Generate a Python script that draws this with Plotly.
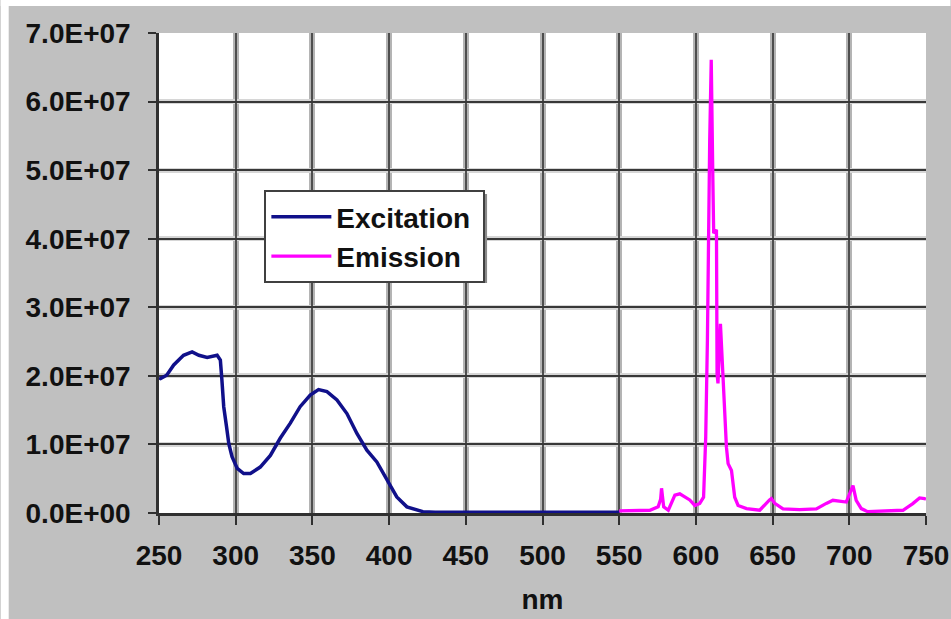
import plotly.graph_objects as go

# ---- data ----
ex_nm = [250, 251, 255, 259.6, 266, 271.6, 276, 281.4, 287.9, 290, 291, 292.2, 294, 295.5,
         297.6, 301, 305.2, 309.6, 316, 322.6, 329, 335.6, 342, 348.6, 354, 359.5, 366,
         372.5, 379, 385.5, 392, 398.6, 405, 411.6, 418, 422, 430, 450, 500, 550]
ex_val = [1.97e7, 1.96e7, 2.01e7, 2.16e7, 2.30e7, 2.35e7, 2.30e7, 2.27e7, 2.30e7, 2.23e7,
          1.94e7, 1.55e7, 1.26e7, 1.01e7, 0.82e7, 0.65e7, 0.575e7, 0.575e7, 0.67e7, 0.84e7,
          1.09e7, 1.31e7, 1.55e7, 1.72e7, 1.80e7, 1.77e7, 1.65e7, 1.45e7, 1.16e7, 0.915e7,
          0.745e7, 0.48e7, 0.234e7, 0.09e7, 0.04e7, 0.02e7, 0.01e7, 0.01e7, 0.01e7, 0.01e7]

em_nm = [550, 570, 575.4, 577, 577.6, 579, 582, 586.3, 589.5, 592.8, 596, 599.3, 602.5, 605,
         606.4, 607.5, 608, 609, 610, 610.5, 611, 611.6, 613.4, 613.8, 614.4, 616, 617.3,
         618.8, 619.9, 621, 623.2, 625.3, 627.5, 633, 641.6, 648, 649.2, 651.4, 656.8,
         667.6, 678.5, 685, 689.3, 698, 702.4, 704.5, 707.8, 712, 735, 741.4, 745.8, 749, 750]
em_val = [0.03e7, 0.04e7, 0.09e7, 0.20e7, 0.36e7, 0.09e7, 0.04e7, 0.26e7, 0.28e7, 0.23e7,
          0.19e7, 0.11e7, 0.14e7, 0.23e7, 1.11e7, 2.52e7, 3.98e7, 5.44e7, 6.61e7, 6.02e7,
          4.95e7, 4.08e7, 4.13e7, 2.03e7, 1.89e7, 2.76e7, 2.08e7, 1.55e7, 0.96e7, 0.72e7,
          0.62e7, 0.23e7, 0.11e7, 0.064e7, 0.04e7, 0.19e7, 0.21e7, 0.14e7, 0.06e7, 0.05e7,
          0.06e7, 0.14e7, 0.185e7, 0.16e7, 0.40e7, 0.185e7, 0.064e7, 0.02e7, 0.04e7,
          0.137e7, 0.22e7, 0.21e7, 0.20e7]

x_ticks = [250, 300, 350, 400, 450, 500, 550, 600, 650, 700, 750]
x_grid = [300, 350, 400, 450, 500, 550, 600, 650, 700]
y_ticks = [0, 1e7, 2e7, 3e7, 4e7, 5e7, 6e7, 7e7]
y_grid = [1e7, 2e7, 3e7, 4e7, 5e7, 6e7]
y_tick_labels = ["0.0E+00", "1.0E+07", "2.0E+07", "3.0E+07", "4.0E+07", "5.0E+07", "6.0E+07", "7.0E+07"]

FONT = "Liberation Sans, Arial, sans-serif"
TXT = "#111111"

fig = go.Figure()
fig.add_trace(go.Scatter(x=ex_nm, y=ex_val, mode="lines", name="<b>Excitation</b>&nbsp;",
                         line=dict(color="#10108a", width=3.5)))
fig.add_trace(go.Scatter(x=em_nm, y=em_val, mode="lines", name="<b>Emission</b>",
                         line=dict(color="#ff00ff", width=3.3)))
# empty helper traces so the grid-only overlay axes exist
fig.add_trace(go.Scatter(x=[], y=[], xaxis="x2", yaxis="y2", showlegend=False, hoverinfo="skip"))
fig.add_trace(go.Scatter(x=[], y=[], xaxis="x3", yaxis="y3", showlegend=False, hoverinfo="skip"))

W, H = 951, 619
L, R, T, B = 158.5, 24.5, 33, 106
pw, ph = W - L - R, H - T - B

def px(xp):
    return (xp - L) / pw

def py(yp):
    return (H - B - yp) / ph

shapes = [
    dict(type="rect", xref="paper", yref="paper", x0=px(0), x1=px(8), y0=py(H), y1=py(0),
         fillcolor="white", line=dict(width=0), layer="below"),
    dict(type="rect", xref="paper", yref="paper", x0=px(0), x1=px(W), y0=py(6), y1=py(0),
         fillcolor="white", line=dict(width=0), layer="below"),
    # legend shadow
    dict(type="rect", xref="paper", yref="paper", x0=px(268), x1=px(487), y0=py(283), y1=py(194),
         fillcolor="#8a8a8a", line=dict(width=0), layer="above"),
]

grid_common = dict(showticklabels=False, ticks="", showline=False, zeroline=False, automargin=False)

fig.update_layout(
    width=W, height=H,
    margin=dict(l=L, r=R, t=T, b=B, pad=0, autoexpand=False),
    paper_bgcolor="#c0c0c0",
    plot_bgcolor="white",
    font=dict(family=FONT, size=28, color=TXT),
    shapes=shapes,
    showlegend=True,
    legend=dict(x=px(264), y=py(190), xanchor="left", yanchor="top",
                bgcolor="white", bordercolor="#404040", borderwidth=2,
                font=dict(family=FONT, size=28, color=TXT),
                itemwidth=60, tracegroupgap=0),
    xaxis=dict(range=[250, 750], tickvals=x_ticks, ticktext=[f"<b>{v}</b>" for v in x_ticks],
               showgrid=False, automargin=False,
               showline=True, linecolor="#303030", linewidth=2.5,
               ticks="outside", ticklen=9, tickwidth=2, tickcolor="#303030",
               ticklabelstandoff=7, zeroline=False,
               tickfont=dict(family=FONT, size=28, color=TXT),
               title=dict(text="<b>nm</b>", font=dict(family=FONT, size=28, color=TXT),
                          standoff=20)),
    yaxis=dict(range=[0, 7e7], tickvals=y_ticks, ticktext=[f"<b>{t}</b>" for t in y_tick_labels],
               showgrid=False, automargin=False,
               showline=True, linecolor="#303030", linewidth=2.5,
               ticks="outside", ticklen=8, tickwidth=2, tickcolor="#303030",
               ticklabelstandoff=12, zeroline=False,
               tickfont=dict(family=FONT, size=28, color=TXT)),
    # light halo of the grid lines
    xaxis2=dict(overlaying="x", anchor="y2", range=[250, 750], tickvals=x_grid,
                showgrid=True, gridcolor="#b4b4b4", gridwidth=6, **grid_common),
    yaxis2=dict(overlaying="y", anchor="x2", range=[0, 7e7], tickvals=y_grid,
                showgrid=True, gridcolor="#d6d6d6", gridwidth=5, **grid_common),
    # dark core of the grid lines
    xaxis3=dict(overlaying="x", anchor="y3", range=[250, 750], tickvals=x_grid,
                showgrid=True, gridcolor="#4e4e4e", gridwidth=2.2, **grid_common),
    yaxis3=dict(overlaying="y", anchor="x3", range=[0, 7e7], tickvals=y_grid,
                showgrid=True, gridcolor="#383838", gridwidth=2.2, **grid_common),
)

fig.write_html("out.html", config={"displayModeBar": False},
               post_script="document.body.style.margin='0';")
